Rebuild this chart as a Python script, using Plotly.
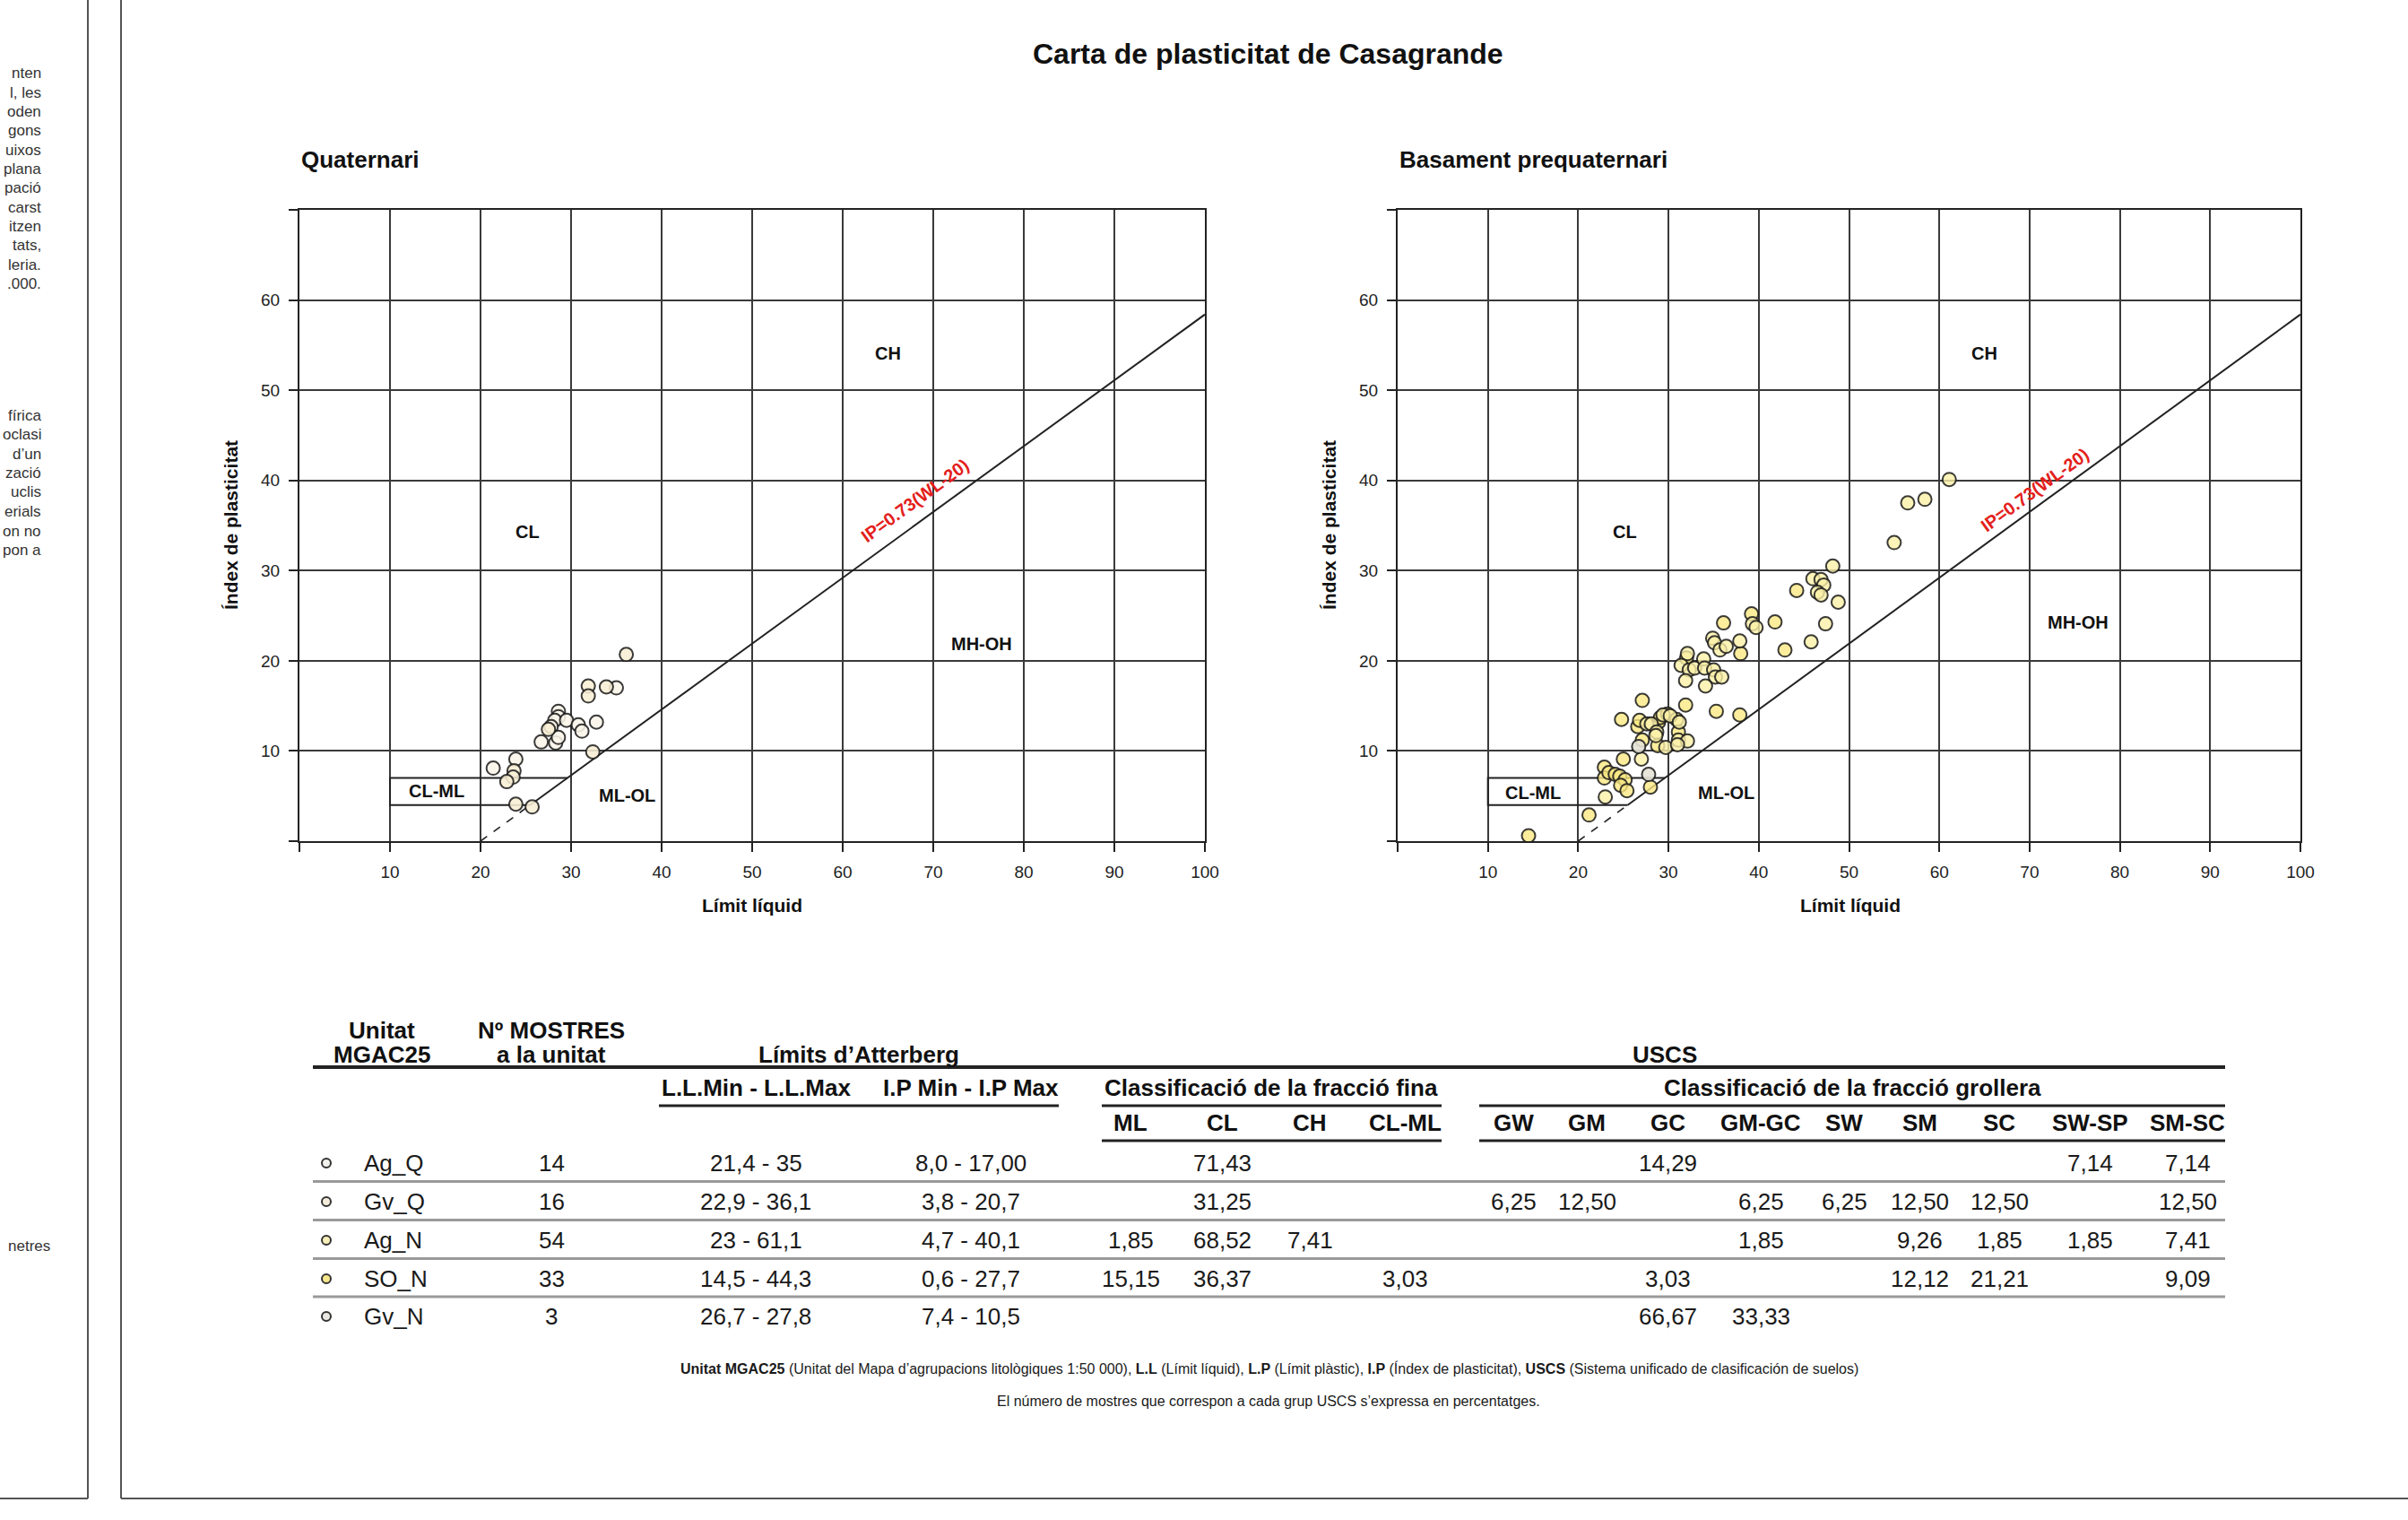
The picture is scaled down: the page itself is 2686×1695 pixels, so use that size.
import plotly.graph_objects as go

W, H = 2686, 1695          # target picture size
CSS_W = 2702               # layout width that the photographed page squeezes into W
FONT = "Liberation Sans, Arial, Helvetica, sans-serif"

# ---------------- data ----------------
# Quaternari (Límit líquid, Índex de plasticitat)
ag_q_ll = [21.4, 23.9, 28.6, 28.6, 28.2, 27.8, 29.5, 30.8, 31.2, 32.8, 26.7, 28.3, 28.6, 35.0]
ag_q_ip = [8.1, 9.1, 14.4, 13.8, 13.4, 12.7, 13.4, 12.9, 12.2, 13.2, 11.0, 10.9, 11.5, 17.0]
gv_q_ll = [36.1, 31.9, 31.9, 33.9, 32.4, 23.7, 23.6, 22.9, 23.9, 25.7, 27.5]
gv_q_ip = [20.7, 17.2, 16.1, 17.1, 9.9, 7.8, 7.1, 6.6, 4.1, 3.8, 12.4]

# Basament prequaternari
ag_n_ll = [23.0, 27.0, 27.6, 28.1, 28.7, 29.4, 30.2, 31.2, 31.1, 32.1, 29.7, 28.6, 31.0,
           48.2, 46.0, 46.9, 47.2, 46.5, 46.9, 48.8, 47.4, 45.8, 39.3, 39.7, 34.9, 35.1, 35.7,
           36.4, 37.9, 32.1, 31.4, 32.3, 32.9, 33.9, 34.0, 35.0, 35.2, 35.9, 31.9, 34.1,
           61.1, 56.5, 58.4, 55.0]
ag_n_ip = [4.9, 9.1, 13.0, 13.0, 12.1, 14.0, 13.9, 13.2, 11.2, 11.1, 10.4, 11.7, 10.7,
           30.5, 29.1, 29.0, 28.4, 27.6, 27.3, 26.5, 24.1, 22.1, 24.1, 23.7, 22.5, 22.0, 21.2,
           21.6, 22.2, 20.8, 19.5, 19.0, 19.2, 20.2, 19.2, 19.0, 18.2, 18.2, 17.8, 17.2,
           40.1, 37.5, 37.9, 33.1]
so_n_ll = [14.5, 21.2, 22.9, 22.9, 23.4, 24.1, 24.6, 25.2, 24.7, 25.4, 25.0, 28.0, 24.8,
           27.1, 27.1, 26.6, 26.8, 28.9, 29.1, 29.9, 30.9, 31.1, 28.8, 31.9, 44.2, 42.9,
           41.8, 39.2, 37.9, 35.3, 38.0, 36.1, 32.0]
so_n_ip = [0.6, 2.9, 8.2, 7.0, 7.6, 7.4, 7.2, 6.8, 6.2, 5.6, 9.1, 6.0, 13.5,
           15.6, 11.2, 12.7, 13.4, 13.2, 13.7, 14.1, 13.5, 12.1, 10.6, 15.1, 27.8, 21.2,
           24.3, 25.2, 14.0, 14.4, 20.8, 24.2, 20.3]
gv_n_ll = [26.7, 27.8]
gv_n_ip = [10.5, 7.4]

# Reference lines of the Casagrande chart
a_line_slope = 0.73
a_line_ll0 = 20
cl_ml_ip = [4, 7]
cl_ml_ll_start = 10

x_ticks = [0, 10, 20, 30, 40, 50, 60, 70, 80, 90, 100]
x_tick_labels = ["", "10", "20", "30", "40", "50", "60", "70", "80", "90", "100"]
y_ticks = [0, 10, 20, 30, 40, 50, 60, 70]
y_tick_labels = ["", "10", "20", "30", "40", "50", "60", ""]

# Table
units = ["Ag_Q", "Gv_Q", "Ag_N", "SO_N", "Gv_N"]
n_samples = ["14", "16", "54", "33", "3"]
ll_range = ["21,4 - 35", "22,9 - 36,1", "23 - 61,1", "14,5 - 44,3", "26,7 - 27,8"]
ip_range = ["8,0 - 17,00", "3,8 - 20,7", "4,7 - 40,1", "0,6 - 27,7", "7,4 - 10,5"]
fine_cols = ["ML", "CL", "CH", "CL-ML"]
fine_vals = [["", "71,43", "", ""],
             ["", "31,25", "", ""],
             ["1,85", "68,52", "7,41", ""],
             ["15,15", "36,37", "", "3,03"],
             ["", "", "", ""]]
coarse_cols = ["GW", "GM", "GC", "GM-GC", "SW", "SM", "SC", "SW-SP", "SM-SC"]
coarse_vals = [["", "", "14,29", "", "", "", "", "7,14", "7,14"],
               ["6,25", "12,50", "", "6,25", "6,25", "12,50", "12,50", "", "12,50"],
               ["", "", "", "1,85", "", "9,26", "1,85", "1,85", "7,41"],
               ["", "", "3,03", "", "", "12,12", "21,21", "", "9,09"],
               ["", "", "66,67", "33,33", "", "", "", "", ""]]
unit_colors = ["#f3f1ec", "#f5ecdb", "#f8eeb8", "#f6e68c", "#e9e7e1"]

side_text_1 = ["nten", "l, les", "oden", "gons", "uixos", "plana", "pació", "carst",
               "itzen", "tats,", "leria.", ".000."]
side_text_2 = ["fírica", "oclasi", "d’un", "zació", "uclis", "erials", "on no", "pon a"]
side_text_3 = ["netres"]


# ---------------- helpers (picture pixels -> paper) ----------------
def px(x):
    return x / W


def py(y):
    return 1 - y / H


fig = go.Figure()
annotations = []
shapes = []

LINE = "#222222"


def note(x, y, text, size, color="#111", xanchor="center", yanchor="middle", angle=0):
    annotations.append(dict(x=px(x), y=py(y), xref="paper", yref="paper", text=text,
                            showarrow=False, xanchor=xanchor, yanchor=yanchor,
                            textangle=angle, font=dict(family=FONT, size=size, color=color)))


panels = [
    dict(xa="x", ya="y", title="Quaternari", x0=334,
         series=[(ag_q_ll, ag_q_ip, "rgba(250,245,233,0.88)"),
                 (gv_q_ll, gv_q_ip, "rgba(248,238,212,0.88)")],
         labels=[("CH", 65.0, 54.1), ("CL", 25.2, 34.3), ("MH-OH", 75.3, 21.9),
                 ("ML-OL", 36.2, 5.1), ("CL-ML", 15.1, 5.6)],
         red=(68.0, 37.8)),
    dict(xa="x2", ya="y2", title="Basament prequaternari", x0=1559,
         series=[(so_n_ll, so_n_ip, "rgba(250,232,130,0.80)"),
                 (ag_n_ll, ag_n_ip, "rgba(251,240,168,0.80)"),
                 (gv_n_ll, gv_n_ip, "rgba(228,226,214,0.90)")],
         labels=[("CH", 65.0, 54.1), ("CL", 25.2, 34.3), ("MH-OH", 75.4, 24.3),
                 ("ML-OL", 36.4, 5.4), ("CL-ML", 15.0, 5.4)],
         red=(70.6, 39.0)),
]

for p in panels:
    xa, ya = p["xa"], p["ya"]
    ll_at = lambda ip: a_line_ll0 + ip / a_line_slope
    fig.add_trace(go.Scatter(x=[a_line_ll0, ll_at(cl_ml_ip[0])], y=[0, cl_ml_ip[0]],
                             mode="lines", line=dict(color=LINE, width=1.6, dash="dash"),
                             xaxis=xa, yaxis=ya, hoverinfo="skip"))
    fig.add_trace(go.Scatter(x=[ll_at(cl_ml_ip[0]), 100],
                             y=[cl_ml_ip[0], a_line_slope * (100 - a_line_ll0)],
                             mode="lines", line=dict(color=LINE, width=2),
                             xaxis=xa, yaxis=ya, hoverinfo="skip"))
    fig.add_trace(go.Scatter(x=[ll_at(cl_ml_ip[1]), cl_ml_ll_start, cl_ml_ll_start, ll_at(cl_ml_ip[0])],
                             y=[cl_ml_ip[1], cl_ml_ip[1], cl_ml_ip[0], cl_ml_ip[0]],
                             mode="lines", line=dict(color=LINE, width=2),
                             xaxis=xa, yaxis=ya, hoverinfo="skip"))
    for (xs, ys, col) in p["series"]:
        fig.add_trace(go.Scatter(x=xs, y=ys, mode="markers",
                                 marker=dict(size=15, color=col,
                                             line=dict(color="rgba(25,25,25,0.85)", width=2)),
                                 xaxis=xa, yaxis=ya, hoverinfo="skip"))
    for (t, lx, ly) in p["labels"]:
        annotations.append(dict(x=lx, y=ly, xref=xa, yref=ya, text="<b>%s</b>" % t,
                                showarrow=False, xanchor="center", yanchor="middle",
                                font=dict(family=FONT, size=20, color="#111")))
    annotations.append(dict(x=p["red"][0], y=p["red"][1], xref=xa, yref=ya,
                            text="<b>IP=0.73(WL-20)</b>", textangle=-36, showarrow=False,
                            xanchor="center", yanchor="middle",
                            font=dict(family=FONT, size=20, color="#e3201b")))
    note(p["x0"], 178, "<b>%s</b>" % p["title"], 26, xanchor="left")
    note(p["x0"] + 505, 1009, "<b>Límit líquid</b>", 21)
    note(p["x0"] - 77, 586, "<b>Índex de plasticitat</b>", 21, angle=-90)

axis_x = dict(range=[0, 100], tickvals=x_ticks, ticktext=x_tick_labels, ticks="outside",
              ticklen=10, tickwidth=2, tickcolor=LINE, showgrid=True, gridcolor="#3a3a3a",
              gridwidth=2, showline=True, linecolor=LINE, linewidth=2, mirror=True,
              zeroline=False, ticklabelstandoff=6,
              tickfont=dict(family=FONT, size=19, color="#222"), fixedrange=True)
axis_y = dict(range=[0, 70], tickvals=y_ticks, ticktext=y_tick_labels, ticks="outside",
              ticklen=10, tickwidth=2, tickcolor=LINE, showgrid=True, gridcolor="#3a3a3a",
              gridwidth=2, showline=True, linecolor=LINE, linewidth=2, mirror=True,
              zeroline=False, ticklabelstandoff=6,
              tickfont=dict(family=FONT, size=19, color="#222"), fixedrange=True)

ydom = [py(938), py(234)]

# ---------------- main title ----------------
note(1415, 60, "<b>Carta de plasticitat de Casagrande</b>", 32)

# ---------------- table ----------------
def txt(x, y, s, bold=False, anchor="center"):
    note(x, y, ("<b>%s</b>" % s) if bold else s, 26,
         color="#111" if bold else "#1a1a1a", xanchor=anchor)


def hline(x0, x1, y, width=3, color=LINE):
    shapes.append(dict(type="line", xref="paper", yref="paper", x0=px(x0), x1=px(x1),
                       y0=py(y), y1=py(y), line=dict(color=color, width=width)))


txt(426, 1149, "Unitat", bold=True)
txt(426, 1176, "MGAC25", bold=True)
txt(615, 1149, "Nº MOSTRES", bold=True)
txt(615, 1176, "a la unitat", bold=True)
txt(958, 1176, "Límits d’Atterberg", bold=True)
txt(1857, 1176, "USCS", bold=True)
hline(349, 2482, 1190, width=4)
txt(843, 1213, "L.L.Min - L.L.Max", bold=True)
txt(1083, 1213, "I.P Min - I.P Max", bold=True)
txt(1418, 1213, "Classificació de la fracció fina", bold=True)
txt(2066, 1213, "Classificació de la fracció grollera", bold=True)
hline(735, 1181, 1233)
hline(1229, 1608, 1233)
hline(1650, 2482, 1233)
fine_x = [1261, 1364, 1461, 1567]
coarse_x = [1688, 1770, 1860, 1964, 2057, 2141, 2230, 2331, 2440]
for c, x in zip(fine_cols, fine_x):
    txt(x, 1252, c, bold=True)
for c, x in zip(coarse_cols, coarse_x):
    txt(x, 1252, c, bold=True)
hline(1229, 1608, 1272)
hline(1650, 2482, 1272)

row_y = [1297, 1340, 1383, 1426, 1468]
for i, y in enumerate(row_y):
    shapes.append(dict(type="circle", xref="paper", yref="paper",
                       x0=px(359), x1=px(369), y0=py(y + 5), y1=py(y - 5),
                       fillcolor=unit_colors[i], line=dict(color="#333", width=2)))
    txt(404, y, units[i], anchor="left")
    txt(615, y, n_samples[i])
    txt(843, y, ll_range[i])
    txt(1083, y, ip_range[i])
    for v, x in zip(fine_vals[i], fine_x):
        if v:
            txt(x, y, v)
    for v, x in zip(coarse_vals[i], coarse_x):
        if v:
            txt(x, y, v)
    if i < len(row_y) - 1:
        hline(349, 2482, (y + row_y[i + 1]) / 2 - 1, width=3, color="#9a9a9a")

# footnotes
note(1416, 1526,
     "<b>Unitat MGAC25</b> (Unitat del Mapa d’agrupacions litològiques 1:50 000), "
     "<b>L.L</b> (Límit líquid), <b>L.P</b> (Límit plàstic), <b>I.P</b> (Índex de plasticitat), "
     "<b>USCS</b> (Sistema unificado de clasificación de suelos)", 16, color="#1a1a1a")
note(1415, 1562,
     "El número de mostres que correspon a cada grup USCS s’expressa en percentatges.",
     16, color="#1a1a1a")

# ---------------- side panel fragments & frames ----------------
for i, s in enumerate(side_text_1):
    note(48, 82 + i * 21.3, s, 17, color="#333", xanchor="right")
for i, s in enumerate(side_text_2):
    note(48, 463 + i * 21.5, s, 17, color="#333", xanchor="right")
for s in side_text_3:
    note(58, 1389, s, 17, color="#333", xanchor="right")

FR = "#555555"
shapes.append(dict(type="line", xref="paper", yref="paper", x0=px(98), x1=px(98),
                   y0=py(0), y1=py(1671), line=dict(color=FR, width=2)))
shapes.append(dict(type="line", xref="paper", yref="paper", x0=px(0), x1=px(98),
                   y0=py(1671), y1=py(1671), line=dict(color=FR, width=2)))
shapes.append(dict(type="line", xref="paper", yref="paper", x0=px(135), x1=px(135),
                   y0=py(0), y1=py(1671), line=dict(color=FR, width=2)))
shapes.append(dict(type="line", xref="paper", yref="paper", x0=px(135), x1=px(W),
                   y0=py(1671), y1=py(1671), line=dict(color=FR, width=2)))

fig.update_layout(
    width=CSS_W, height=H, autosize=False,
    margin=dict(l=0, r=0, t=0, b=0),
    paper_bgcolor="white", plot_bgcolor="white",
    showlegend=False, hovermode=False,
    xaxis=dict(axis_x, domain=[px(334), px(1344)], anchor="y"),
    yaxis=dict(axis_y, domain=ydom, anchor="x"),
    xaxis2=dict(axis_x, domain=[px(1559), px(2566)], anchor="y2"),
    yaxis2=dict(axis_y, domain=ydom, anchor="x2"),
    annotations=annotations,
    shapes=shapes,
)

fig.write_html(
    "out.html",
    config={"displayModeBar": False},
    post_script="document.body.style.margin='0';document.body.style.padding='0';"
                "document.body.style.overflow='hidden';"
                "document.documentElement.style.overflow='hidden';",
)
